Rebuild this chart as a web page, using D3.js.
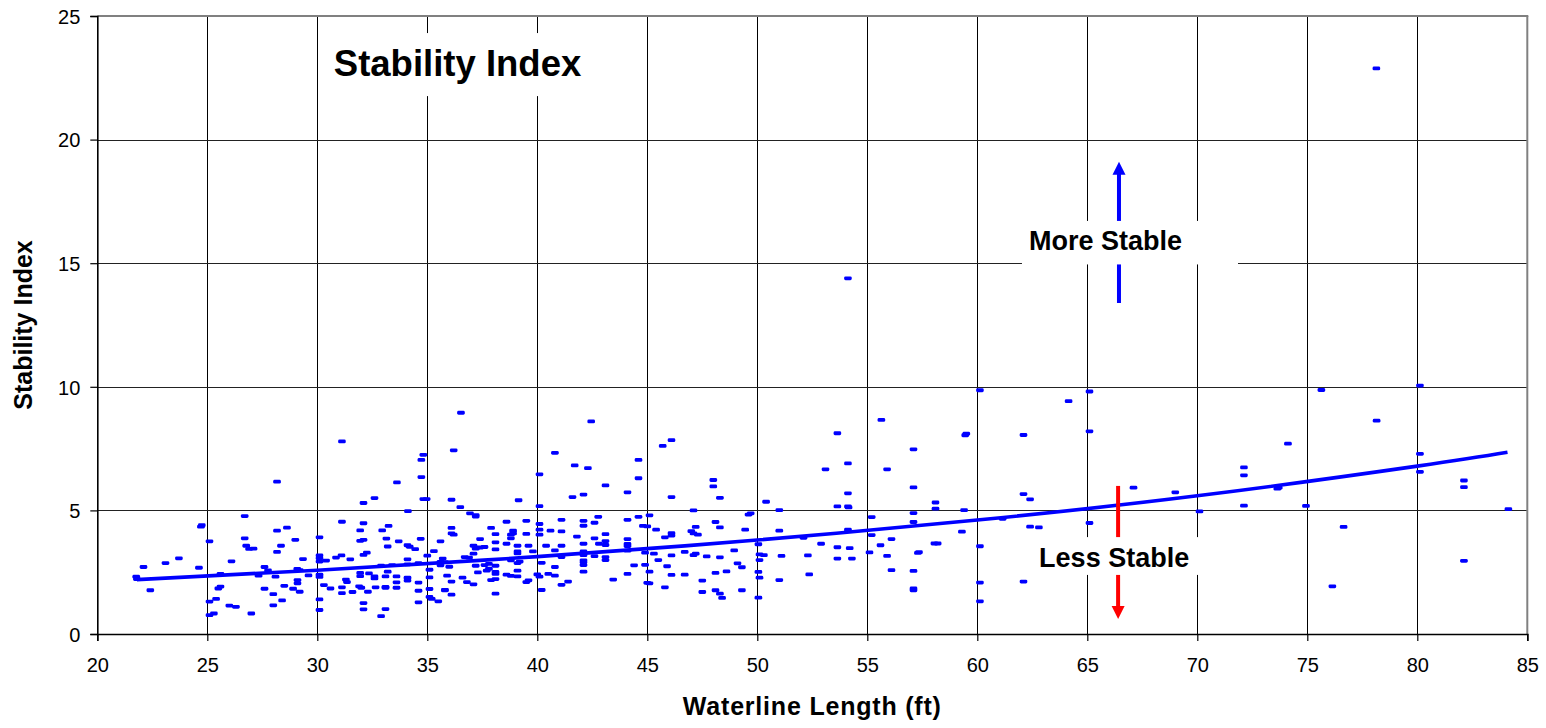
<!DOCTYPE html>
<html>
<head>
<meta charset="utf-8">
<script src="https://cdn.jsdelivr.net/npm/d3@7"></script>
<style>
  html, body { margin: 0; padding: 0; background: #fff; }
  svg { display: block; }
  text { font-family: "Liberation Sans", Arial, sans-serif; }
</style>
</head>
<body>
<svg id="chart" width="1546" height="728"></svg>
<script>
// ---- Data ----
const xTicks = [20, 25, 30, 35, 40, 45, 50, 55, 60, 65, 70, 75, 80, 85];
const yTicks = [0, 5, 10, 15, 20, 25];

// [waterline length (ft), stability index]
const pointsShort = [
  [31.12,7.79],[28.17,6.16],[34.82,7.25],[34.73,7.04],[34.73,6.35],[33.62,6.13],[32.6,5.5],[32.1,5.3],
  [34.82,5.46],[34.97,5.46],[34.12,4.97],[26.7,4.77],[24.71,4.34],[24.75,4.4],[25.1,3.75],[26.7,3.87],
  [26.77,3.57],[26.9,3.44],[27.1,3.45],[28.17,4.18],[28.62,4.3],[29.0,3.81],[28.35,3.57],[28.17,3.32],
  [26.1,2.94],[22.1,2.71],[23.1,2.87],[23.71,3.06],[24.62,2.68],[21.77,2.32],[21.8,2.22],[22.41,1.77],
  [25.6,2.43],[27.6,2.71],[27.76,2.57],[28.1,2.32],[27.33,2.36],[29.09,2.63],[29.2,2.58],[29.35,3.03],
  [29.6,2.37],[30.1,3.91],[30.1,3.18],[30.1,3.06],[30.1,2.93],[30.1,2.4],[30.1,2.31],[30.4,2.97],
  [30.85,3.09],[31.1,3.18],[31.5,3.02],[31.12,4.54],[32.1,4.48],[31.95,4.19],[31.95,3.77],[32.1,3.81],
  [32.25,3.29],[32.1,3.2],[32.95,4.19],[33.24,4.37],[33.14,3.86],[33.2,3.54],[33.7,3.75],[34.1,3.59],
  [34.2,3.53],[34.45,3.43],[34.7,3.85],[35.0,3.17],[35.3,3.35],[35.6,3.75],[35.7,3.05],[32.9,2.76],
  [33.2,2.52],[33.4,2.79],[34.1,3.02],[34.1,2.82],[34.6,2.87],[35.1,2.6],[35.6,2.78],[31.95,2.47],
  [31.95,2.34],[32.35,2.45],[32.6,2.33],[32.6,2.25],[33.1,2.33],[33.1,1.91],[33.6,2.33],[33.6,2.09],
  [34.1,2.28],[34.1,2.16],[34.6,2.08],[35.1,2.29],[31.3,2.2],[31.35,2.1],[31.12,1.89],[31.12,1.65],
  [31.6,1.7],[31.9,1.93],[32.0,1.87],[32.3,1.71],[32.65,1.89],[33.1,1.87],[33.6,1.87],[34.6,1.75],
  [35.1,1.82],[35.8,1.78],[30.3,1.98],[30.6,1.84],[30.1,1.4],[30.1,0.97],[28.5,1.95],[28.9,1.83],
  [29.2,1.71],[29.1,2.18],[29.1,2.05],[28.0,1.61],[28.4,1.36],[28.0,1.16],[27.6,1.83],[26.0,1.15],
  [26.3,1.1],[27.0,0.83],[25.1,1.31],[25.4,1.42],[25.1,0.76],[25.3,0.83],[25.5,1.84],[25.6,1.92],
  [32.1,1.25],[32.1,1.0],[33.1,1.01],[32.9,0.72],[34.6,1.28],[35.1,1.5],[35.2,1.42],[35.5,1.32],
  [35.9,2.36]
];

const pointsMid = [
  [36.53,8.95],[36.2,7.43],[36.1,5.43],[36.5,5.13],[36.94,4.88],[37.2,4.81],[37.2,4.75],[36.1,4.29],
  [36.1,4.07],[36.2,4.02],[39.15,5.41],[40.1,6.46],[40.1,5.17],[40.8,7.33],[41.7,6.82],[42.3,6.71],
  [42.45,8.6],[41.6,5.54],[42.1,5.64],[43.1,6.01],[44.1,5.73],[44.6,7.04],[44.6,6.3],[45.7,7.61],
  [46.1,7.84],[46.1,5.54],[48.0,6.23],[48.0,5.97],[48.3,5.51],[50.4,5.35],[51.0,5.01],[49.6,4.83],
  [49.7,4.88],[47.1,5.0],[48.1,4.53],[48.3,4.31],[47.2,4.33],[47.0,4.16],[47.1,4.07],[47.3,4.02],
  [49.45,4.22],[48.95,3.38],[49.1,2.86],[49.3,2.7],[48.6,2.53],[48.1,2.47],[48.3,3.1],[47.7,3.14],
  [47.2,3.25],[47.1,3.19],[46.7,3.32],[46.1,4.08],[46.1,3.98],[45.8,3.91],[46.1,3.18],[45.9,2.74],
  [46.1,2.39],[46.7,2.4],[47.5,2.16],[48.1,1.77],[48.3,1.63],[48.4,1.46],[47.5,1.7],[49.3,1.77],
  [50.05,3.63],[50.1,3.22],[50.3,3.19],[50.1,2.99],[50.05,2.51],[50.1,2.28],[50.05,1.47],[51.0,4.18],
  [51.0,2.18],[45.8,1.89],[45.0,4.35],[44.8,4.37],[45.4,4.22],[45.1,4.8],[44.6,4.74],[44.1,4.62],
  [44.1,3.84],[44.1,3.64],[44.1,3.56],[44.1,3.37],[44.9,3.29],[45.3,3.25],[45.5,2.99],[44.9,2.8],
  [45.1,2.52],[44.4,2.78],[44.1,2.43],[45.0,2.07],[45.1,2.05],[43.45,2.2],[42.77,4.74],[42.6,4.5],
  [42.1,4.58],[42.1,4.38],[41.1,4.62],[41.1,4.15],[40.6,4.18],[40.1,4.45],[40.1,4.22],[40.1,4.02],
  [39.5,4.58],[39.5,4.05],[38.9,4.18],[38.9,4.07],[38.8,4.02],[38.6,4.54],[38.1,4.04],[37.9,4.29],
  [37.4,3.84],[38.1,3.71],[38.1,3.42],[38.6,3.65],[38.8,3.87],[39.1,3.57],[39.1,3.34],[39.1,3.26],
  [39.6,3.57],[39.8,3.34],[40.4,3.57],[40.8,3.38],[41.1,3.57],[41.1,3.11],[41.8,3.94],[42.1,3.65],
  [42.6,3.87],[42.8,3.65],[43.1,4.04],[43.1,3.76],[43.1,3.6],[42.1,3.34],[42.1,3.19],[42.1,2.98],
  [42.1,2.9],[42.1,2.79],[42.6,3.15],[43.1,3.11],[43.1,2.99],[42.1,2.52],[40.8,2.71],[40.2,2.88],
  [40.0,2.41],[40.1,2.32],[40.5,2.43],[40.8,2.36],[41.1,1.99],[41.4,2.12],[40.2,1.78],[39.6,2.17],
  [39.5,2.1],[39.1,2.33],[39.1,2.56],[38.8,2.35],[38.6,2.4],[39.1,2.87],[38.8,2.98],[39.2,2.93],
  [38.1,2.76],[38.1,2.51],[38.1,2.43],[38.1,2.22],[37.9,2.18],[38.1,1.63],[37.7,2.56],[37.8,2.64],
  [37.3,2.49],[37.6,2.79],[37.8,2.84],[37.2,2.76],[37.1,3.25],[37.4,3.5],[37.6,3.52],[37.1,3.57],
  [37.2,3.45],[36.7,3.11],[36.9,3.09],[36.6,2.28],[36.8,2.1],[37.1,2.01],[36.1,2.12],[35.8,1.77],
  [36.1,1.59],[35.6,2.92],[35.8,2.91],[36.0,2.72]
];

const pointsLong = [
  [54.12,14.39],[60.12,9.86],[65.1,9.81],[64.15,9.42],[55.64,8.66],[53.64,8.12],[59.45,8.04],[59.5,8.1],
  [62.1,8.05],[65.1,8.2],[57.1,7.47],[55.9,6.66],[53.1,6.66],[54.12,6.9],[57.1,5.93],[54.12,5.69],
  [62.1,5.66],[62.4,5.45],[67.1,5.92],[69.0,5.73],[70.1,4.96],[65.1,4.49],[58.1,5.32],[58.1,5.07],
  [59.4,5.01],[57.1,4.89],[57.1,4.53],[53.64,5.16],[54.12,5.16],[54.15,5.12],[55.2,4.73],[54.12,4.22],
  [55.2,4.0],[56.1,3.84],[59.3,4.14],[61.15,4.66],[62.4,4.34],[62.8,4.31],[60.12,3.55],[58.05,3.66],
  [58.2,3.66],[57.3,3.28],[57.35,3.31],[55.6,3.59],[55.1,3.3],[55.9,3.16],[56.1,2.58],[57.1,2.55],
  [57.1,1.77],[57.1,1.84],[60.12,2.08],[60.12,1.32],[62.1,2.12],[52.9,3.65],[53.64,3.51],[53.64,3.05],
  [54.2,3.47],[54.3,3.05],[52.3,3.18],[52.36,2.41],[52.1,3.89],[51.1,3.16],
  [75.64,9.87],[80.12,10.05],[78.15,8.63],[74.12,7.7],[72.12,6.74],[72.12,6.42],[80.12,7.29],[80.12,6.56],
  [73.64,5.88],[73.7,5.92],[82.12,6.21],[82.12,5.94],[72.12,5.19],[74.94,5.18],[84.14,5.05],[76.65,4.33],
  [82.12,2.96],[76.14,1.93],[78.14,22.88]
];

// Trend line (exponential trendline in the original)
const trendPoints = [[21.8,2.2],[30,2.58],[40,3.13],[50,3.8],[60,4.61],[70,5.59],[80,6.79],[84.1,7.35]];

// Annotations (in data units)
const titleText = "Stability Index";
const xAxisTitle = "Waterline Length (ft)";
const yAxisTitle = "Stability Index";
const moreArrow = { x: 66.44, yFrom: 13.39, yTo: 19.1 };
const lessArrow = { x: 66.4, yFrom: 5.99, yTo: 0.61 };

// ---- Layout ----
const svg = d3.select("#chart");
const plot = { left: 97.3, right: 1527.3, top: 16, bottom: 634 };

const x = d3.scaleLinear().domain([20, 85]).range([plot.left, plot.right]);
const y = d3.scaleLinear().domain([0, 25]).range([plot.bottom, plot.top]);

const font = '"Liberation Sans", Arial, sans-serif';

// gridlines
svg.append("g").selectAll("line.vg")
  .data(xTicks.filter(d => d > 20 && d < 85)).join("line")
  .attr("x1", d => Math.round(x(d)) + 0.5).attr("x2", d => Math.round(x(d)) + 0.5)
  .attr("y1", plot.top).attr("y2", plot.bottom)
  .attr("stroke", "#000").attr("stroke-width", 1);
svg.append("g").selectAll("line.hg")
  .data(yTicks.filter(d => d > 0 && d < 25)).join("line")
  .attr("x1", plot.left).attr("x2", plot.right)
  .attr("y1", d => Math.round(y(d)) + 0.5).attr("y2", d => Math.round(y(d)) + 0.5)
  .attr("stroke", "#222").attr("stroke-width", 1);

// top and right border (grey)
svg.append("line").attr("x1", plot.left).attr("x2", plot.right + 1).attr("y1", plot.top).attr("y2", plot.top)
  .attr("stroke", "#808080").attr("stroke-width", 2);
svg.append("line").attr("x1", plot.right).attr("x2", plot.right).attr("y1", plot.top).attr("y2", plot.bottom)
  .attr("stroke", "#808080").attr("stroke-width", 2);

// axes
const yAxis = d3.axisLeft(y).tickValues(yTicks).tickSize(7).tickPadding(10).tickFormat(d3.format("d"));
const gy = svg.append("g").attr("transform", `translate(${plot.left},0)`).call(yAxis);
gy.select(".domain").attr("stroke", "#000").attr("stroke-width", 1.6);
gy.selectAll(".tick line").attr("stroke", "#000").attr("stroke-width", 1.2);
gy.selectAll(".tick text").attr("font-family", font).attr("font-size", 20).attr("fill", "#000")
  .attr("dy", "0.36em");

const xAxis = d3.axisBottom(x).tickValues(xTicks).tickSize(7).tickPadding(10).tickFormat(d3.format("d"));
const gx = svg.append("g").attr("transform", `translate(0,${plot.bottom})`).call(xAxis);
gx.select(".domain").attr("stroke", "#000").attr("stroke-width", 1.6);
gx.selectAll(".tick line").attr("stroke", "#000").attr("stroke-width", 1.2);
gx.selectAll(".tick text").attr("font-family", font).attr("font-size", 20).attr("fill", "#000")
  .attr("y", 0).attr("dy", 38);

// points
const allPoints = pointsShort.concat(pointsMid, pointsLong);
svg.append("g").selectAll("rect")
  .data(allPoints).join("rect")
  .attr("x", d => x(d[0]) - 3.8).attr("y", d => y(d[1]) - 1.9)
  .attr("width", 7.6).attr("height", 3.8).attr("rx", 1.4)
  .attr("fill", "#0000ff");

// trend line
svg.append("path")
  .datum(trendPoints)
  .attr("d", d3.line().x(d => x(d[0])).y(d => y(d[1])).curve(d3.curveNatural))
  .attr("fill", "none").attr("stroke", "#0000ff").attr("stroke-width", 3.6);

// arrows
function arrow(a, color) {
  const xs = x(a.x), y0 = y(a.yFrom), y1 = y(a.yTo);
  const dir = y1 < y0 ? -1 : 1;
  const headLen = 13, headHalf = 6.5;
  svg.append("line").attr("x1", xs).attr("x2", xs).attr("y1", y0).attr("y2", y1 - dir * headLen + dir)
    .attr("stroke", color).attr("stroke-width", 4);
  svg.append("path")
    .attr("d", `M${xs - headHalf},${y1 - dir * headLen} L${xs + headHalf},${y1 - dir * headLen} L${xs},${y1} Z`)
    .attr("fill", color);
}
arrow(moreArrow, "#0000ff");
arrow(lessArrow, "#ff0000");

// text boxes (white background, covering grid)
function textBox(box, label, size, textX, baseline) {
  svg.append("rect")
    .attr("x", x(box.x0)).attr("y", y(box.y1))
    .attr("width", x(box.x1) - x(box.x0)).attr("height", y(box.y0) - y(box.y1))
    .attr("fill", "#fff");
  svg.append("text").attr("x", x(textX)).attr("y", y(baseline))
    .attr("font-family", font).attr("font-weight", "bold").attr("font-size", size)
    .attr("fill", "#000").text(label);
}
textBox({ x0: 30.26, x1: 42.3, y0: 21.76, y1: 24.31 }, titleText, 36.5, 30.75, 22.57);
textBox({ x0: 62.03, x1: 71.85, y0: 14.95, y1: 16.71 }, "More Stable", 27, 62.35, 15.53);
textBox({ x0: 62.49, x1: 70.16, y0: 2.39, y1: 3.92 }, "Less Stable", 27, 62.81, 2.71);

// axis titles
svg.append("text")
  .attr("x", (plot.left + plot.right) / 2).attr("y", 715)
  .attr("text-anchor", "middle").attr("font-family", font).attr("font-weight", "bold")
  .attr("font-size", 25).attr("letter-spacing", 0.8).attr("fill", "#000").text(xAxisTitle);
svg.append("text")
  .attr("transform", `translate(32,${(plot.top + plot.bottom) / 2}) rotate(-90)`)
  .attr("text-anchor", "middle").attr("font-family", font).attr("font-weight", "bold")
  .attr("font-size", 25).attr("fill", "#000").text(yAxisTitle);
</script>
</body>
</html>
